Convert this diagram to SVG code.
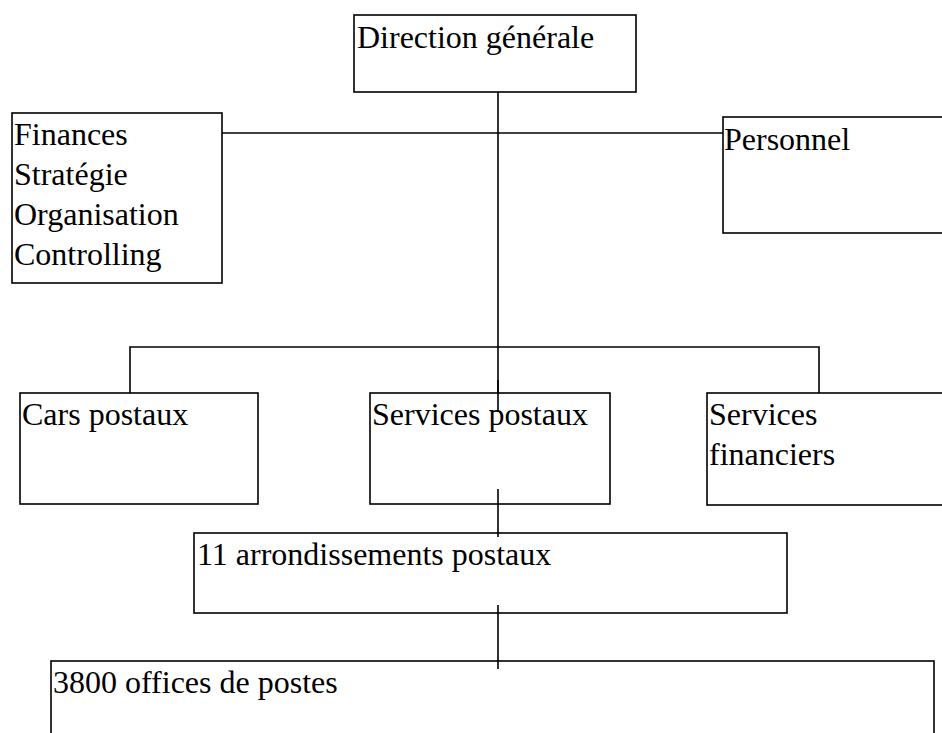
<svg xmlns="http://www.w3.org/2000/svg" width="942" height="733" viewBox="0 0 942 733">
  <style>
    .box { fill: #ffffff; stroke: #000000; stroke-width: 1.6; }
    .lbl { font-family: "Liberation Serif", "Times New Roman", serif; font-size: 32px; fill: #000000; }
    .wire { fill: none; stroke: #000000; stroke-width: 1.6; }
  </style>
  <rect width="942" height="733" fill="#ffffff"/>

  <!-- connectors -->
  <g id="connectors">
    <path class="wire" d="M498 92 V412"/>
    <path class="wire" d="M222 133 H723"/>
    <path class="wire" d="M130 395 V347 H819 V395"/>
  </g>

  <g id="direction">
    <rect class="box" x="354" y="15" width="282" height="77"/>
    <text class="lbl" x="357" y="48">Direction générale</text>
  </g>

  <g id="finances">
    <rect class="box" x="12" y="113" width="210" height="170"/>
    <text class="lbl" x="14" y="145">Finances</text>
    <text class="lbl" x="14" y="185">Stratégie</text>
    <text class="lbl" x="14" y="225">Organisation</text>
    <text class="lbl" x="14" y="265">Controlling</text>
  </g>

  <g id="personnel">
    <rect class="box" x="723" y="117" width="230" height="116"/>
    <text class="lbl" x="724" y="150">Personnel</text>
  </g>

  <g id="cars">
    <rect class="box" x="20" y="393" width="238" height="111"/>
    <text class="lbl" x="22" y="425">Cars postaux</text>
  </g>

  <g id="services-postaux">
    <rect class="box" x="370" y="393" width="240" height="111"/>
    <text class="lbl" x="372" y="425">Services postaux</text>
  </g>
  <!-- main trunk overlays the label of the postal services box -->
  <path class="wire" d="M498 380 V412"/>

  <g id="services-financiers">
    <rect class="box" x="707" y="393" width="245" height="112"/>
    <text class="lbl" x="709" y="425">Services</text>
    <text class="lbl" x="709" y="465">financiers</text>
  </g>

  <g id="arrondissements">
    <rect class="box" x="194" y="533" width="593" height="80"/>
    <text class="lbl" x="197" y="565">11 arrondissements postaux</text>
  </g>

  <g id="offices">
    <rect class="box" x="51" y="661" width="883" height="90"/>
    <text class="lbl" x="53" y="693">3800 offices de postes</text>
  </g>

  <!-- short drops crossing the lower boxes -->
  <g id="drops">
    <path class="wire" d="M498 489 V537"/>
    <path class="wire" d="M498 605 V669"/>
  </g>
</svg>
